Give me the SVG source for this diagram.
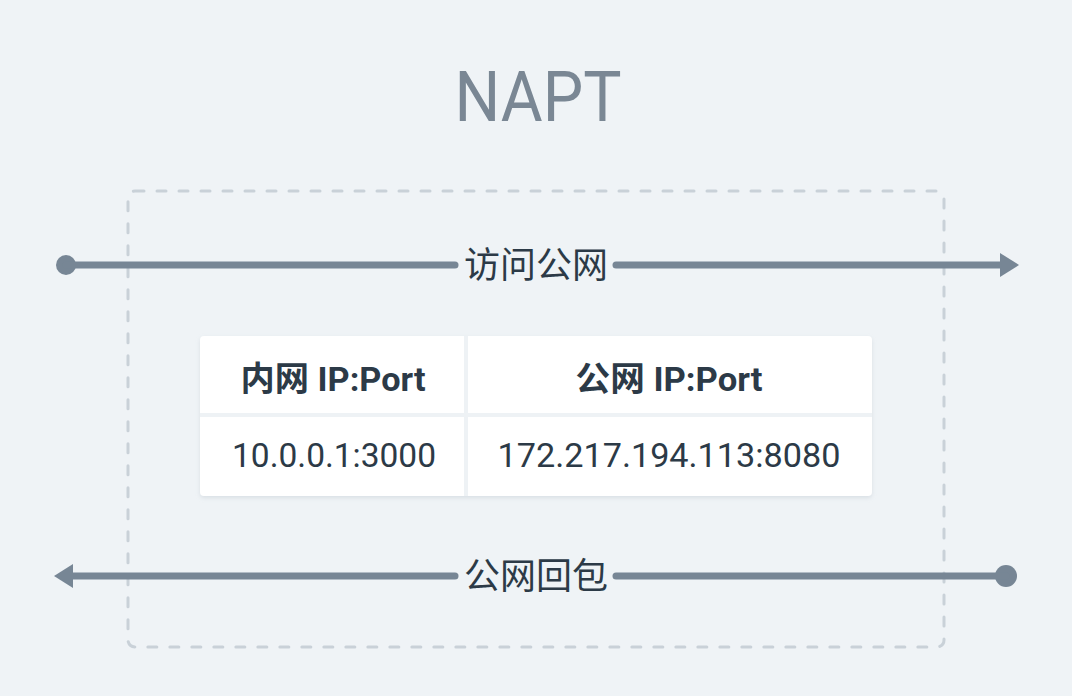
<svg xmlns="http://www.w3.org/2000/svg" width="1072" height="696" viewBox="0 0 1072 696">
<style>
.title{font-family:"Roboto","Liberation Sans",sans-serif;font-size:70px;fill:#7a8794;text-anchor:middle}
.lbl{font-family:"Noto Sans CJK SC","Noto Sans",sans-serif;font-size:36px;fill:#2c3a47;text-anchor:middle}
.hd{font-family:"Roboto","Noto Sans CJK SC",sans-serif;font-size:34px;font-weight:bold;fill:#2c3a47;text-anchor:middle}
.cell{font-family:"Roboto","Noto Sans",sans-serif;font-size:34px;fill:#2c3a47;text-anchor:middle}
.ln{stroke:#778695;stroke-width:7;stroke-linecap:round;fill:none}
.dot{fill:#778695}
</style>
<defs>
<filter id="sh" x="-5%" y="-5%" width="110%" height="115%"><feDropShadow dx="0" dy="2" stdDeviation="2" flood-color="#b0bac4" flood-opacity="0.35"/></filter>
</defs>
<rect width="1072" height="696" fill="#eff3f6"/>
<text class="title" x="538" y="121" textLength="167" lengthAdjust="spacingAndGlyphs">NAPT</text>
<g id="boundary">
<rect x="128" y="191" width="816" height="456" rx="7" fill="none" stroke="#c9d1d8" stroke-width="3" stroke-dasharray="9 13" stroke-linecap="round"/>
</g>
<g id="table" filter="url(#sh)">
<rect x="200" y="336" width="672" height="160" rx="4" fill="#ffffff"/>
</g>
<g id="table-grid">
<rect x="464" y="336" width="4" height="160" fill="#eef2f5"/>
<rect x="200" y="413" width="672" height="4" fill="#eef2f5"/>
</g>
<g id="cell-h1"><text class="hd" x="333" y="391" textLength="185" lengthAdjust="spacingAndGlyphs">内网 IP:Port</text></g>
<g id="cell-h2"><text class="hd" x="669" y="391" textLength="187" lengthAdjust="spacingAndGlyphs">公网 IP:Port</text></g>
<g id="cell-d1"><text class="cell" x="334" y="467" textLength="204" lengthAdjust="spacingAndGlyphs">10.0.0.1:3000</text></g>
<g id="cell-d2"><text class="cell" x="669" y="467" textLength="343" lengthAdjust="spacingAndGlyphs">172.217.194.113:8080</text></g>
<g id="connectors">
<g id="out-arrow">
<circle class="dot" cx="66" cy="265" r="10"/>
<line class="ln" x1="66" y1="265" x2="455" y2="265"/>
<line class="ln" x1="616" y1="265" x2="1002" y2="265"/>
<path class="dot" d="M1000 253 L1019 265 L1000 277 Z"/>
</g>
<g id="back-arrow">
<circle class="dot" cx="1006" cy="576" r="11"/>
<line class="ln" x1="1006" y1="576" x2="616" y2="576"/>
<line class="ln" x1="455" y1="576" x2="72" y2="576"/>
<path class="dot" d="M73 564 L54 576 L73 588 Z"/>
</g>
</g>
<g id="label-out"><text class="lbl" x="536" y="278">访问公网</text></g>
<g id="label-back"><text class="lbl" x="536" y="589">公网回包</text></g>
</svg>
